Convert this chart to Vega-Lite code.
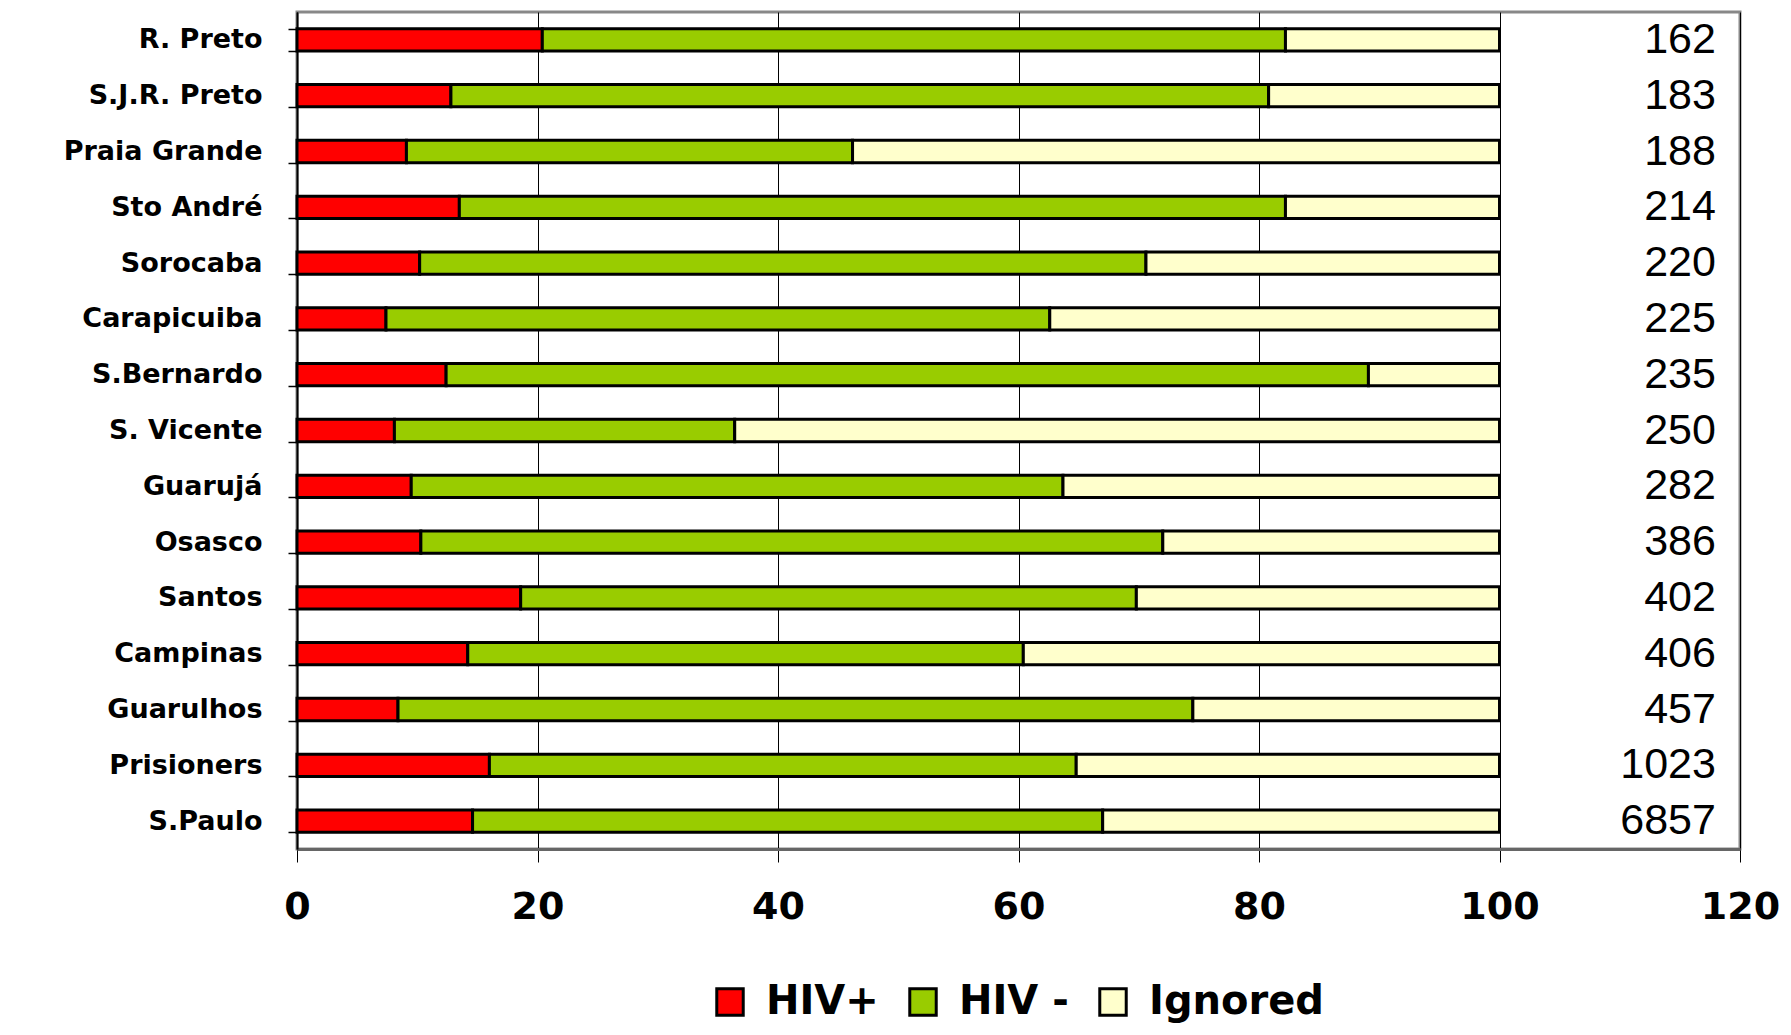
{
  "$schema": "https://vega.github.io/schema/vega-lite/v6.json",
  "autosize": "none",
  "padding": {"left": 297, "top": 12, "right": 51, "bottom": 186},
  "width": 1443,
  "height": 837,
  "background": "white",
  "config": {
    "view": {"stroke": "#888888", "strokeWidth": 3},
    "font": "DejaVu Sans"
  },
  "datasets": {
    "shares": [
      {"city": "R. Preto", "status": "HIV+", "ord": 1, "pct": 20.4},
      {"city": "R. Preto", "status": "HIV -", "ord": 2, "pct": 61.8},
      {"city": "R. Preto", "status": "Ignored", "ord": 3, "pct": 17.8},
      {"city": "S.J.R. Preto", "status": "HIV+", "ord": 1, "pct": 12.8},
      {"city": "S.J.R. Preto", "status": "HIV -", "ord": 2, "pct": 68.0},
      {"city": "S.J.R. Preto", "status": "Ignored", "ord": 3, "pct": 19.2},
      {"city": "Praia Grande", "status": "HIV+", "ord": 1, "pct": 9.1},
      {"city": "Praia Grande", "status": "HIV -", "ord": 2, "pct": 37.1},
      {"city": "Praia Grande", "status": "Ignored", "ord": 3, "pct": 53.8},
      {"city": "Sto André", "status": "HIV+", "ord": 1, "pct": 13.5},
      {"city": "Sto André", "status": "HIV -", "ord": 2, "pct": 68.7},
      {"city": "Sto André", "status": "Ignored", "ord": 3, "pct": 17.8},
      {"city": "Sorocaba", "status": "HIV+", "ord": 1, "pct": 10.2},
      {"city": "Sorocaba", "status": "HIV -", "ord": 2, "pct": 60.4},
      {"city": "Sorocaba", "status": "Ignored", "ord": 3, "pct": 29.4},
      {"city": "Carapicuiba", "status": "HIV+", "ord": 1, "pct": 7.4},
      {"city": "Carapicuiba", "status": "HIV -", "ord": 2, "pct": 55.2},
      {"city": "Carapicuiba", "status": "Ignored", "ord": 3, "pct": 37.4},
      {"city": "S.Bernardo", "status": "HIV+", "ord": 1, "pct": 12.4},
      {"city": "S.Bernardo", "status": "HIV -", "ord": 2, "pct": 76.7},
      {"city": "S.Bernardo", "status": "Ignored", "ord": 3, "pct": 10.9},
      {"city": "S. Vicente", "status": "HIV+", "ord": 1, "pct": 8.1},
      {"city": "S. Vicente", "status": "HIV -", "ord": 2, "pct": 28.3},
      {"city": "S. Vicente", "status": "Ignored", "ord": 3, "pct": 63.6},
      {"city": "Guarujá", "status": "HIV+", "ord": 1, "pct": 9.5},
      {"city": "Guarujá", "status": "HIV -", "ord": 2, "pct": 54.2},
      {"city": "Guarujá", "status": "Ignored", "ord": 3, "pct": 36.3},
      {"city": "Osasco", "status": "HIV+", "ord": 1, "pct": 10.3},
      {"city": "Osasco", "status": "HIV -", "ord": 2, "pct": 61.7},
      {"city": "Osasco", "status": "Ignored", "ord": 3, "pct": 28.0},
      {"city": "Santos", "status": "HIV+", "ord": 1, "pct": 18.6},
      {"city": "Santos", "status": "HIV -", "ord": 2, "pct": 51.2},
      {"city": "Santos", "status": "Ignored", "ord": 3, "pct": 30.2},
      {"city": "Campinas", "status": "HIV+", "ord": 1, "pct": 14.2},
      {"city": "Campinas", "status": "HIV -", "ord": 2, "pct": 46.2},
      {"city": "Campinas", "status": "Ignored", "ord": 3, "pct": 39.6},
      {"city": "Guarulhos", "status": "HIV+", "ord": 1, "pct": 8.4},
      {"city": "Guarulhos", "status": "HIV -", "ord": 2, "pct": 66.1},
      {"city": "Guarulhos", "status": "Ignored", "ord": 3, "pct": 25.5},
      {"city": "Prisioners", "status": "HIV+", "ord": 1, "pct": 16.0},
      {"city": "Prisioners", "status": "HIV -", "ord": 2, "pct": 48.8},
      {"city": "Prisioners", "status": "Ignored", "ord": 3, "pct": 35.2},
      {"city": "S.Paulo", "status": "HIV+", "ord": 1, "pct": 14.6},
      {"city": "S.Paulo", "status": "HIV -", "ord": 2, "pct": 52.4},
      {"city": "S.Paulo", "status": "Ignored", "ord": 3, "pct": 33.0}
    ],
    "totals": [
      {"city": "R. Preto", "n": 162},
      {"city": "S.J.R. Preto", "n": 183},
      {"city": "Praia Grande", "n": 188},
      {"city": "Sto André", "n": 214},
      {"city": "Sorocaba", "n": 220},
      {"city": "Carapicuiba", "n": 225},
      {"city": "S.Bernardo", "n": 235},
      {"city": "S. Vicente", "n": 250},
      {"city": "Guarujá", "n": 282},
      {"city": "Osasco", "n": 386},
      {"city": "Santos", "n": 402},
      {"city": "Campinas", "n": 406},
      {"city": "Guarulhos", "n": 457},
      {"city": "Prisioners", "n": 1023},
      {"city": "S.Paulo", "n": 6857}
    ]
  },
  "encoding": {
    "y": {
      "field": "city",
      "type": "nominal",
      "sort": ["R. Preto", "S.J.R. Preto", "Praia Grande", "Sto André", "Sorocaba", "Carapicuiba", "S.Bernardo", "S. Vicente", "Guarujá", "Osasco", "Santos", "Campinas", "Guarulhos", "Prisioners", "S.Paulo"],
      "scale": {"paddingInner": 0.6, "paddingOuter": 0.3},
      "axis": {
        "title": null,
        "labelFont": "DejaVu Sans",
        "labelFontWeight": "bold",
        "labelFontSize": 27,
        "labelColor": "black",
        "labelPadding": 26,
        "labelLimit": 300,
        "tickBand": "extent",
        "tickSize": 9,
        "tickColor": "black",
        "tickWidth": 1.5,
        "domainColor": "black",
        "domainWidth": 2,
        "grid": false
      }
    }
  },
  "layer": [
    {
      "data": {"name": "shares"},
      "mark": {"type": "bar", "stroke": "black", "strokeWidth": 3, "strokeJoin": "miter"},
      "encoding": {
        "x": {
          "field": "pct",
          "type": "quantitative",
          "stack": "zero",
          "scale": {"domain": [0, 120], "nice": false},
          "axis": {
            "title": null,
            "values": [0, 20, 40, 60, 80, 100, 120],
            "grid": true,
            "gridColor": "black",
            "gridWidth": 1,
            "gridOpacity": 1,
            "labelFont": "DejaVu Sans",
            "labelFontWeight": "bold",
            "labelFontSize": 38,
            "labelColor": "black",
            "labelPadding": 26,
            "labelFlush": false,
            "labelOverlap": false,
            "tickSize": 13,
            "tickColor": "black",
            "tickWidth": 1,
            "domainColor": "#666666",
            "domainWidth": 3
          }
        },
        "color": {
          "field": "status",
          "type": "nominal",
          "scale": {"domain": ["HIV+", "HIV -", "Ignored"], "range": ["#FF0000", "#99CC00", "#FFFFCC"]},
          "legend": {
            "title": null,
            "orient": "none",
            "direction": "horizontal",
            "legendX": 413,
            "legendY": 970,
            "symbolType": "square",
            "symbolSize": 700,
            "symbolStrokeColor": "black",
            "symbolStrokeWidth": 3,
            "symbolOpacity": 1,
            "labelFont": "DejaVu Sans",
            "labelFontWeight": "bold",
            "labelFontSize": 40,
            "labelColor": "black",
            "labelLimit": 400,
            "labelOffset": 16,
            "columnPadding": 24
          }
        },
        "order": {"field": "ord", "type": "quantitative"}
      }
    },
    {
      "data": {"name": "totals"},
      "mark": {"type": "text", "align": "right", "baseline": "middle", "font": "Liberation Sans", "fontSize": 43, "color": "black"},
      "encoding": {
        "x": {"datum": 118},
        "text": {"field": "n", "type": "quantitative", "format": "d"}
      }
    }
  ]
}
